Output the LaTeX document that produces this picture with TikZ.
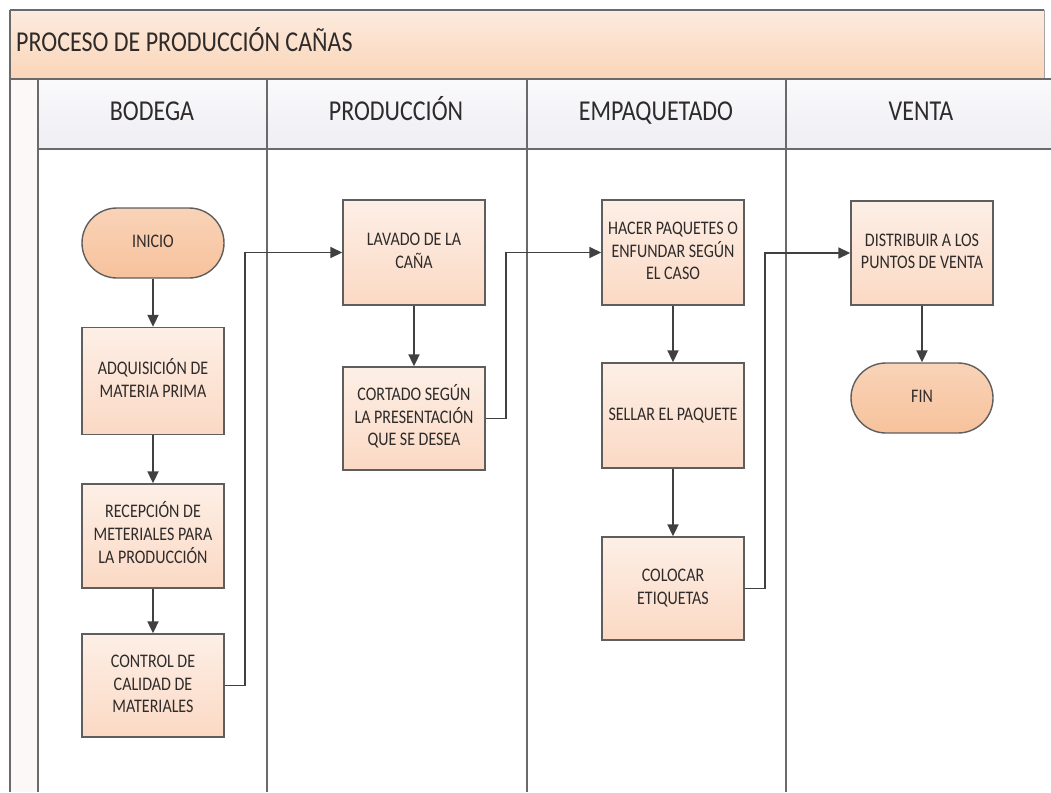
\documentclass[tikz,border=0pt]{standalone}
\usepackage{fontspec}
\setmainfont{Carlito}
\usepackage{graphicx}
\usetikzlibrary{arrows.meta}

\definecolor{titletop}{HTML}{FCEBDF}
\definecolor{titlebot}{HTML}{FBD5B8}
\definecolor{headtop}{HTML}{FAFAFC}
\definecolor{headbot}{HTML}{EEEEF3}
\definecolor{strip}{HTML}{FDF8F8}
\definecolor{lanegray}{HTML}{6A6A6A}
\definecolor{boxedge}{HTML}{5E5E5E}
\definecolor{boxtop}{HTML}{FDEFE6}
\definecolor{boxbot}{HTML}{FBD9C4}
\definecolor{termtop}{HTML}{F9D3B8}
\definecolor{termbot}{HTML}{F7C29C}
\definecolor{arrowgray}{HTML}{404040}
\definecolor{txt}{HTML}{2E2B2A}

% vertically stretched, centred multi-line label
\newcommand{\tx}[1]{\scalebox{1}[1.2]{\begin{tabular}{@{}c@{}}#1\end{tabular}}}

\begin{document}
\begin{tikzpicture}[x=1pt,y=-1pt,
  lane/.style={draw=lanegray, line width=1.3pt},
  stepbox/.style={rectangle, draw=boxedge, line width=1.4pt,
    top color=boxtop, bottom color=boxbot,
    minimum width=142pt, minimum height=105pt, inner sep=0pt,
    text=txt, font=\fontsize{16}{19}\selectfont},
  term/.style={stepbox, rounded corners=35pt, minimum height=70pt,
    top color=termtop, bottom color=termbot},
  flow/.style={draw=arrowgray, line width=2pt, -{Triangle[length=12pt,width=11pt]}},
  link/.style={draw=arrowgray, line width=1.6pt, -{Triangle[length=12pt,width=11pt]}},
  hdr/.style={text=txt, font=\fontsize{24}{28}\selectfont, inner sep=0pt}
]
\useasboundingbox (0,0) rectangle (1051,792);

% pool title bar
\fill[top color=titletop, bottom color=titlebot] (10,10) rectangle (1044,79);
\draw[lanegray!60, line width=0.8pt] (1044,10) -- (1044,79);
\draw[lane] (10,10) -- (1044,10);
% lane header row
\fill[top color=headtop, bottom color=headbot] (38,79) rectangle (1051,149);
% left strip
\fill[strip] (10,79) rectangle (38,792);
\draw[lane] (10,10) -- (10,792);
\draw[lane] (38,79) -- (38,792);
\draw[lane] (10,79) -- (1051,79);
\draw[lane] (38,149) -- (1051,149);
% lane separators
\foreach \x in {267,527,786} \draw[lane] (\x,79) -- (\x,792);

\node[hdr, anchor=west] (title) at (16,45) {\tx{PROCESO DE PRODUCCIÓN CAÑAS}};
\node[hdr] (h1) at (152,114) {\tx{BODEGA}};
\node[hdr] (h2) at (396,114) {\tx{PRODUCCIÓN}};
\node[hdr] (h3) at (656,114) {\tx{EMPAQUETADO}};
\node[hdr] (h4) at (921,114) {\tx{VENTA}};

% BODEGA
\node[term] (inicio) at (153,243) {\tx{INICIO}};
\node[stepbox, minimum height=107pt] (adq) at (153,381) {\tx{ADQUISICIÓN DE\\MATERIA PRIMA}};
\node[stepbox, minimum height=104pt] (rec) at (153,536) {\tx{RECEPCIÓN DE\\METERIALES PARA\\LA PRODUCCIÓN}};
\node[stepbox, minimum height=103pt] (ctrl) at (153,685.5) {\tx{CONTROL DE\\CALIDAD DE\\MATERIALES}};

% PRODUCCION
\node[stepbox] (lav) at (414,252.5) {\tx{LAVADO DE LA\\CAÑA}};
\node[stepbox, minimum height=103pt] (cort) at (414,418.5) {\tx{CORTADO SEGÚN\\LA PRESENTACIÓN\\QUE SE DESEA}};

% EMPAQUETADO
\node[stepbox] (hacer) at (673,252.5) {\tx{HACER PAQUETES O\\ENFUNDAR SEGÚN\\EL CASO}};
\node[stepbox] (sellar) at (673,415.5) {\tx{SELLAR EL PAQUETE}};
\node[stepbox, minimum height=103pt] (colocar) at (673,588.5) {\tx{COLOCAR\\ETIQUETAS}};

% VENTA
\node[stepbox, minimum height=104pt] (dist) at (922,253) {\tx{DISTRIBUIR A LOS\\PUNTOS DE VENTA}};
\node[term] (fin) at (922,398) {\tx{FIN}};

% flow within lanes
\draw[flow] (inicio.south) -- (adq.north);
\draw[flow] (adq.south) -- (rec.north);
\draw[flow] (rec.south) -- (ctrl.north);
\draw[flow] (lav.south) -- (cort.north);
\draw[flow] (hacer.south) -- (sellar.north);
\draw[flow] (sellar.south) -- (colocar.north);
\draw[flow] (dist.south) -- (fin.north);

% flow between lanes
\draw[link] (ctrl.east) -- ++(20,0) |- (lav.west);
\draw[link] (cort.east) -- ++(20,0) |- (hacer.west);
\draw[link] (colocar.east) -- ++(20,0) |- (dist.west);
\end{tikzpicture}
\end{document}
